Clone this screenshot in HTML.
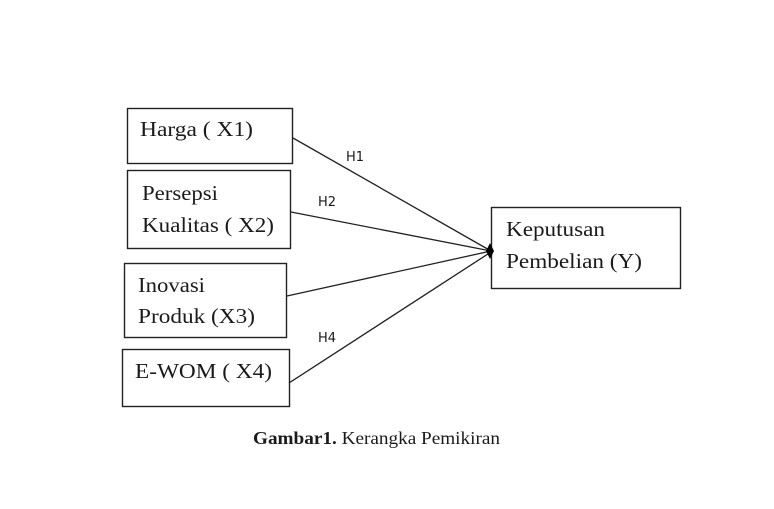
<!DOCTYPE html>
<html><head><meta charset="utf-8"><style>
html,body{margin:0;padding:0;background:#fff;}
svg{display:block;}
.t{font-family:"Liberation Serif",serif;font-size:21px;fill:#1a1a1a;}
.h{font-family:"DejaVu Sans","Liberation Sans",sans-serif;font-size:13px;fill:#1a1a1a;}
</style></head><body>
<svg width="774" height="509" viewBox="0 0 774 509" xmlns="http://www.w3.org/2000/svg">
<g fill="none" stroke="#222" stroke-width="1.4">
<rect x="127.5" y="108.5" width="165" height="55"/>
<rect x="127.5" y="170.5" width="163" height="78"/>
<rect x="124.5" y="263.5" width="162" height="74"/>
<rect x="122.5" y="349.5" width="167" height="57"/>
<rect x="491.5" y="207.5" width="189" height="81"/>
</g>
<g stroke="#222" stroke-width="1.3">
<line x1="293" y1="138" x2="491" y2="251"/>
<line x1="291" y1="212" x2="491" y2="251"/>
<line x1="287" y1="296" x2="491" y2="251"/>
<line x1="289" y1="383" x2="491" y2="252"/>
</g>
<polygon points="486,251 490,243 494,251 490,259" fill="#000"/>
<text class="t" x="140" y="136" textLength="113" lengthAdjust="spacingAndGlyphs">Harga ( X1)</text>
<text class="t" x="142" y="200" textLength="76" lengthAdjust="spacingAndGlyphs">Persepsi</text>
<text class="t" x="142" y="232" textLength="132" lengthAdjust="spacingAndGlyphs">Kualitas ( X2)</text>
<text class="t" x="138" y="292" textLength="67" lengthAdjust="spacingAndGlyphs">Inovasi</text>
<text class="t" x="138" y="323" textLength="117" lengthAdjust="spacingAndGlyphs">Produk (X3)</text>
<text class="t" x="135" y="378" textLength="137" lengthAdjust="spacingAndGlyphs">E-WOM ( X4)</text>
<text class="t" x="506" y="236" textLength="99" lengthAdjust="spacingAndGlyphs">Keputusan</text>
<text class="t" x="506" y="268" textLength="136" lengthAdjust="spacingAndGlyphs">Pembelian (Y)</text>
<text class="h" x="346" y="161">H1</text>
<text class="h" x="318" y="206">H2</text>
<text class="h" x="318" y="342">H4</text>
<text x="253" y="444" textLength="247" lengthAdjust="spacingAndGlyphs" style="font-family:'Liberation Serif',serif;font-size:18px;fill:#1a1a1a"><tspan font-weight="bold">Gambar1.</tspan> Kerangka Pemikiran</text>
</svg>
</body></html>
